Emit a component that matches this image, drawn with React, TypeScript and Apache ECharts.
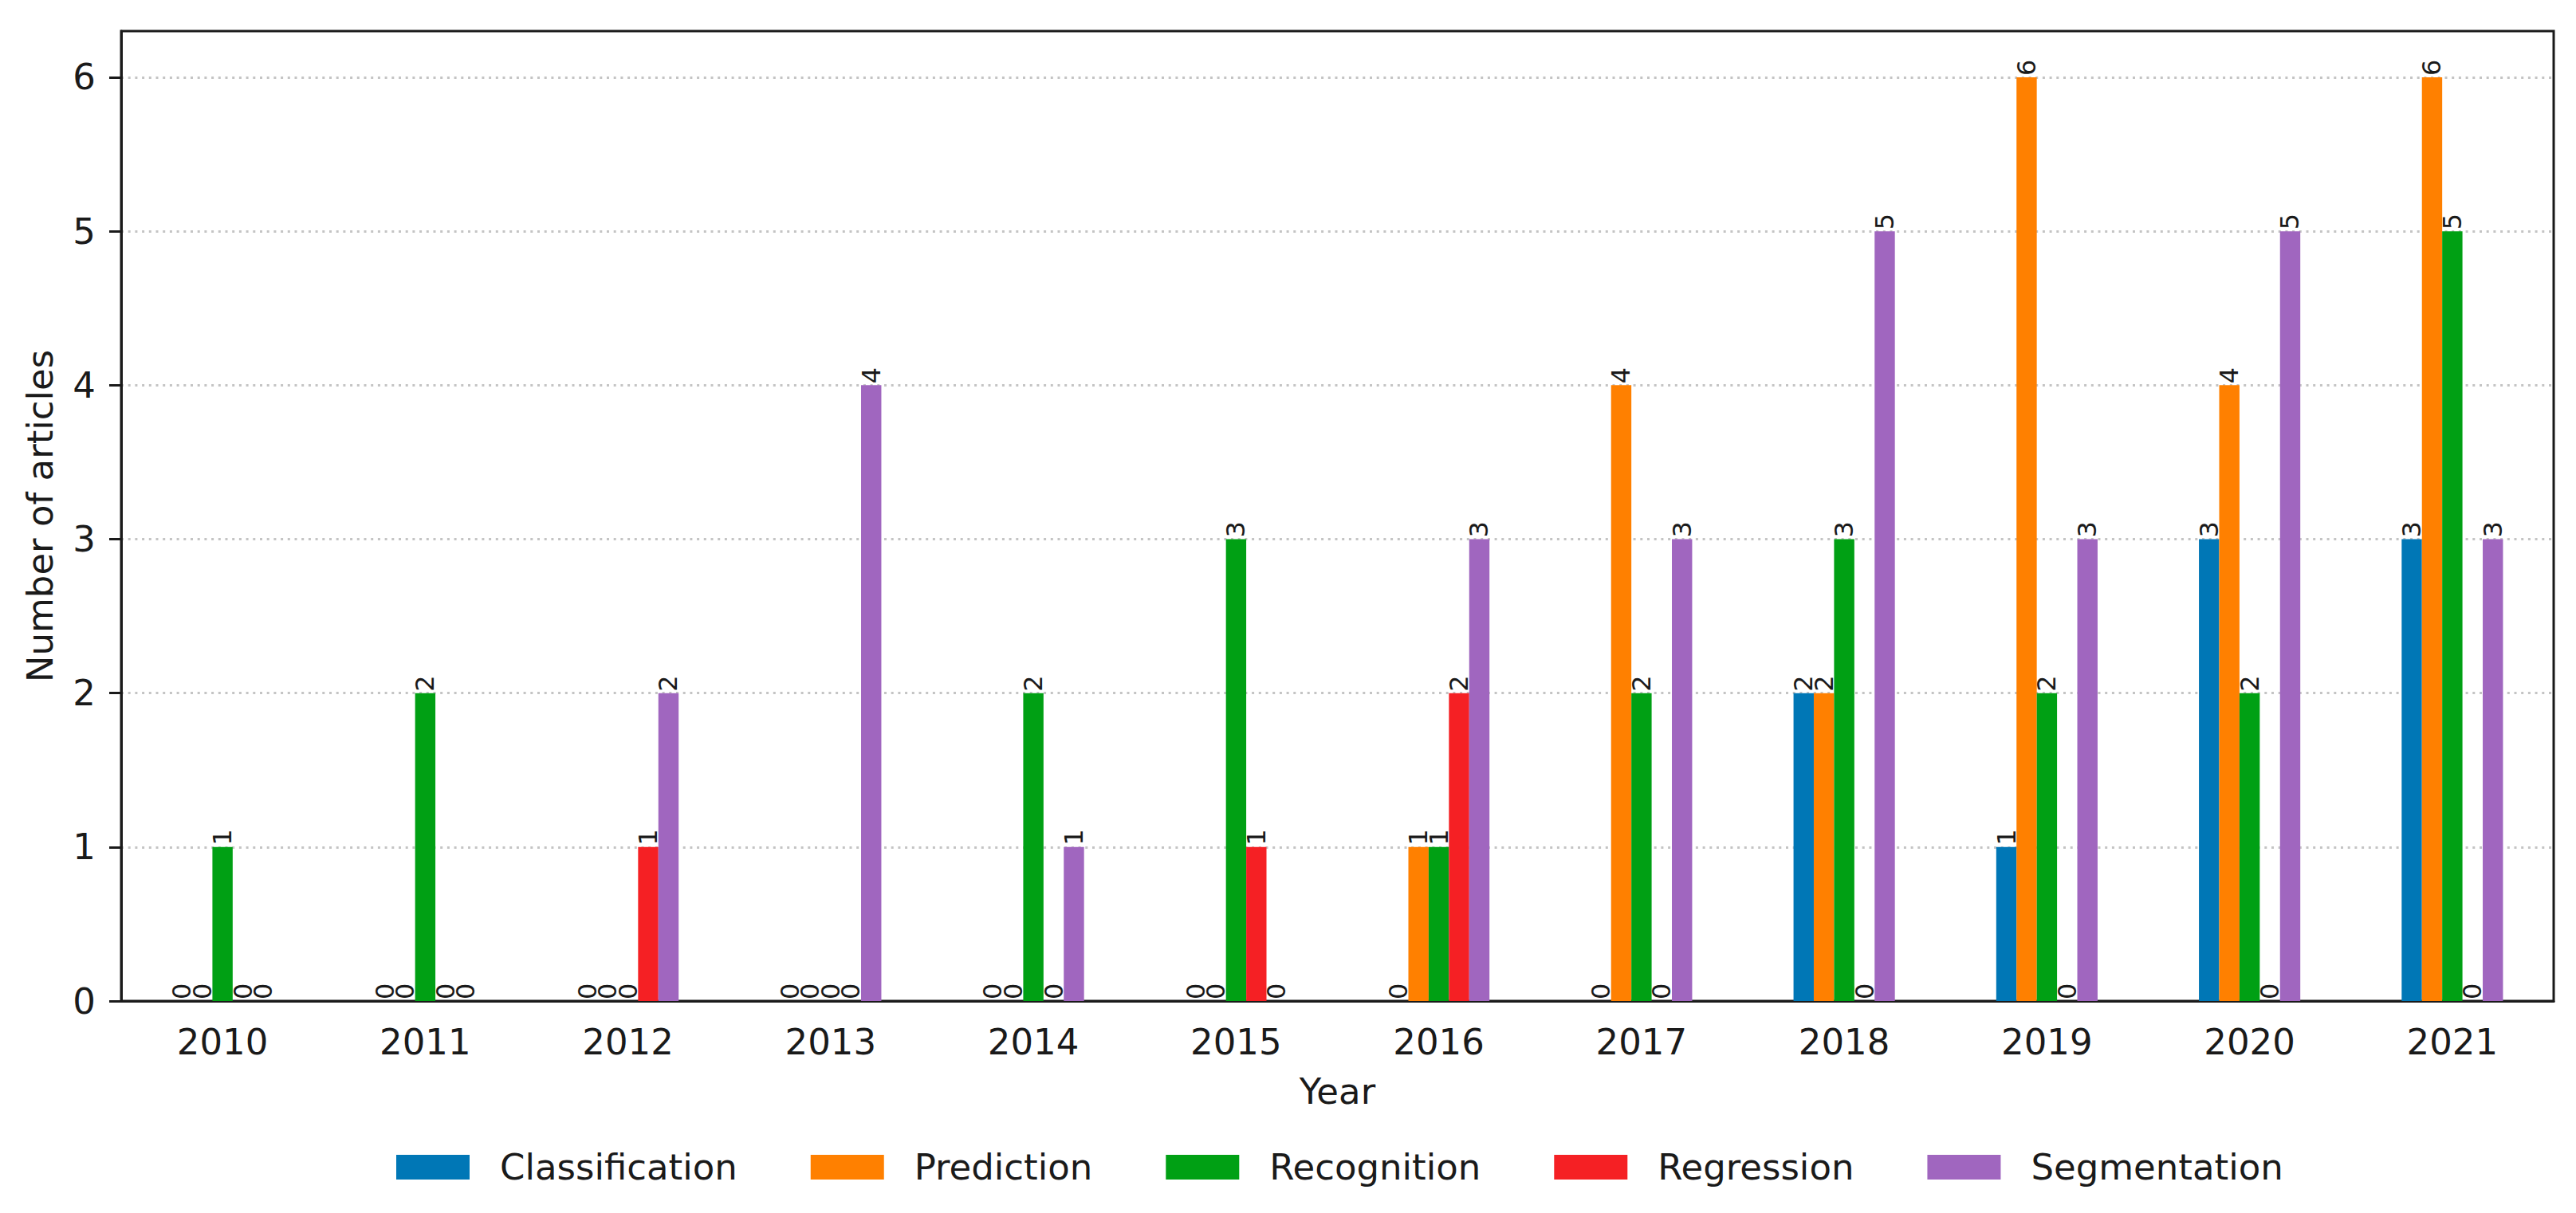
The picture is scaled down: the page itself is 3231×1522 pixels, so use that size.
import React, { useEffect, useRef } from "react";
import * as echarts from "echarts";

const years = ["2010", "2011", "2012", "2013", "2014", "2015", "2016", "2017", "2018", "2019", "2020", "2021"];
const classification = [0, 0, 0, 0, 0, 0, 0, 0, 2, 1, 3, 3];
const prediction = [0, 0, 0, 0, 0, 0, 1, 4, 2, 6, 4, 6];
const recognition = [1, 2, 0, 0, 2, 3, 1, 2, 3, 2, 2, 5];
const regression = [0, 0, 1, 0, 0, 1, 2, 0, 0, 0, 0, 0];
const segmentation = [0, 0, 2, 4, 1, 0, 3, 3, 5, 3, 5, 3];
const yTicks = [0, 1, 2, 3, 4, 5, 6];

const seriesDefs = [
  { name: "Classification", data: classification, color: "#0077b6" },
  { name: "Prediction", data: prediction, color: "#ff8000" },
  { name: "Recognition", data: recognition, color: "#00a014" },
  { name: "Regression", data: regression, color: "#f52024" },
  { name: "Segmentation", data: segmentation, color: "#a066bf" },
];

const FONT = "DejaVu Sans";

export default function App() {
  const ref = useRef<HTMLDivElement>(null);
  useEffect(() => {
    document.body.style.margin = "0";
    document.body.style.overflow = "hidden";
    const chart = echarts.init(ref.current!, null, { renderer: "svg" });
    chart.setOption({
      animation: false,
      backgroundColor: "#ffffff",
      textStyle: { fontFamily: FONT },
      grid: {
        left: 152,
        right: 28,
        top: 39,
        bottom: 266,
        show: true,
        borderColor: "#1a1a1a",
        borderWidth: 3,
        backgroundColor: "transparent",
      },
      legend: {
        left: 492,
        top: 1437,
        icon: "rect",
        itemWidth: 92,
        itemHeight: 31,
        itemGap: 92,
        textStyle: { fontFamily: FONT, fontSize: 45, color: "#1a1a1a", padding: [0, 0, 0, 33] },
        data: seriesDefs.map((s) => s.name),
      },
      xAxis: {
        type: "category",
        data: years,
        name: "Year",
        nameLocation: "middle",
        nameGap: 91,
        nameTextStyle: { fontFamily: FONT, fontSize: 45, color: "#1a1a1a" },
        axisLine: { lineStyle: { color: "#1a1a1a", width: 3 } },
        axisTick: { alignWithLabel: true, length: 15, lineStyle: { color: "#1a1a1a", width: 3 } },
        axisLabel: { fontFamily: FONT, fontSize: 45, color: "#1a1a1a", margin: 29 },
        splitLine: { show: false },
      },
      yAxis: {
        type: "value",
        min: 0,
        max: 6.3,
        interval: 1,
        name: "Number of articles",
        nameLocation: "middle",
        nameGap: 79,
        nameTextStyle: { fontFamily: FONT, fontSize: 45, color: "#1a1a1a" },
        axisLine: { show: true, lineStyle: { color: "#1a1a1a", width: 3 } },
        axisTick: { show: true, length: 15, customValues: yTicks, lineStyle: { color: "#1a1a1a", width: 3 } },
        axisLabel: {
          fontFamily: FONT,
          fontSize: 45,
          color: "#1a1a1a",
          margin: 32,
          customValues: yTicks,
          formatter: (v: number) => (Number.isInteger(v) ? String(v) : ""),
        },
        splitLine: { show: true, lineStyle: { color: "#c4c4c4", width: 3, type: [3, 5.7] } },
      },
      series: seriesDefs.map((s) => ({
        type: "bar",
        name: s.name,
        data: s.data,
        barWidth: "10%",
        barGap: "0%",
        itemStyle: { color: s.color },
        label: {
          show: true,
          position: "top",
          rotate: 90,
          align: "left",
          verticalAlign: "middle",
          distance: 2,
          fontFamily: FONT,
          fontSize: 32,
          color: "#1a1a1a",
        },
      })),
    });
    return () => chart.dispose();
  }, []);
  return <div ref={ref} style={{ width: 3231, height: 1522 }} />;
}
